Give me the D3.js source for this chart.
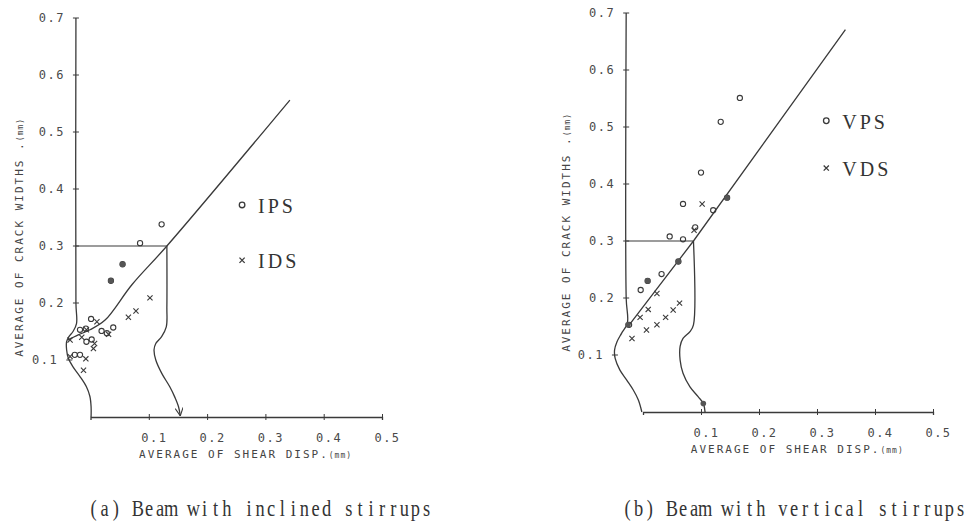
<!DOCTYPE html>
<html>
<head>
<meta charset="utf-8">
<script src="https://cdn.jsdelivr.net/npm/d3@7"></script>
<style>
  body { margin: 0; background: #fff; }
  svg { display: block; }
</style>
</head>
<body>
<div id="chart"></div>
<script>
// shared tick values and texts
const xTicks = [0.1, 0.2, 0.3, 0.4, 0.5];
const yTicks = [0.1, 0.2, 0.3, 0.4, 0.5, 0.6, 0.7];
const xTitle = 'AVERAGE OF SHEAR DISP.';
const yTitle = 'AVERAGE OF CRACK WIDTHS .';
const unitText = '(mm)';

// (a) inclined stirrups  [shear disp, crack width]
const captionA = '(a) Beam with inclined stirrups';
const seriesA = ['IPS', 'IDS'];
const lineA = [[0.342, 0.556], [0.131, 0.300], [0.071, 0.232], [0.025, 0.170], [-0.001, 0.153], [-0.021, 0.144], [-0.039, 0.135]];
const leftBoundA = [[-0.025, 0.7], [-0.025, 0.2], [-0.024, 0.164], [-0.030, 0.150], [-0.037, 0.141], [-0.041, 0.132], [-0.041, 0.118],
  [-0.038, 0.103], [-0.030, 0.088], [-0.018, 0.071], [-0.007, 0.053], [-0.001, 0.036], [0.001, 0.018], [0.001, 0]];
const rightBoundA = [[0.131, 0.3], [0.131, 0.194], [0.130, 0.158], [0.122, 0.141], [0.112, 0.129], [0.109, 0.118], [0.112, 0.100],
  [0.122, 0.077], [0.136, 0.053], [0.145, 0.034], [0.151, 0.018], [0.154, 0.002]];
const ipsA = [[0.085, 0.305], [0.122, 0.338], [0.055, 0.268], [0.035, 0.239], [0.001, 0.172], [-0.018, 0.153], [-0.008, 0.155],
  [0.019, 0.151], [0.039, 0.157], [0.028, 0.147], [-0.007, 0.132], [0.002, 0.136], [-0.027, 0.109], [-0.018, 0.109]];
const idsA = [[0.102, 0.209], [0.078, 0.186], [0.065, 0.175], [0.011, 0.167], [-0.007, 0.153], [0.031, 0.145], [0.007, 0.129],
  [0.005, 0.120], [-0.008, 0.102], [-0.012, 0.082], [-0.035, 0.106], [-0.035, 0.135], [-0.015, 0.140]];
const solidA = [[0.055, 0.268], [0.035, 0.239]];

// (b) vertical stirrups
const captionB = '(b) Beam with vertical stirrups';
const seriesB = ['VPS', 'VDS'];
const lineB = [[0.349, 0.671], [0.087, 0.300], [-0.025, 0.151]];
const leftBoundB = [[-0.029, 0.7], [-0.029, 0.2], [-0.027, 0.156], [-0.037, 0.138], [-0.045, 0.123], [-0.049, 0.109], [-0.048, 0.094],
  [-0.040, 0.074], [-0.028, 0.056], [-0.017, 0.039], [-0.008, 0.021], [-0.002, 0]];
const rightBoundB = [[0.087, 0.3], [0.087, 0.153], [0.081, 0.141], [0.069, 0.129], [0.064, 0.115], [0.064, 0.091], [0.069, 0.068],
  [0.081, 0.044], [0.095, 0.027], [0.104, 0.015], [0.107, 0]];
const vpsB = [[0.167, 0.551], [0.134, 0.509], [0.100, 0.420], [0.069, 0.365], [0.121, 0.354], [0.090, 0.324], [0.046, 0.308],
  [0.069, 0.303], [0.145, 0.376], [0.061, 0.264], [0.032, 0.242], [0.008, 0.230], [-0.004, 0.214], [-0.024, 0.153]];
const vdsB = [[0.102, 0.365], [0.088, 0.319], [0.024, 0.208], [0.009, 0.180], [-0.005, 0.166], [0.063, 0.191], [0.052, 0.179],
  [0.039, 0.166], [0.024, 0.153], [0.006, 0.144], [-0.019, 0.129]];
const solidB = [[-0.026, 0.153], [0.104, 0.015], [0.061, 0.264], [0.145, 0.376], [0.008, 0.230]];

const INK = '#3a3a3a';
const width = 971, height = 524;

const panels = [
  { xr: [90.5, 382], yr: [417, 18], axisX: -0.025, line: lineA, leftB: leftBoundA, rightB: rightBoundA,
    circ: ipsA, cross: idsA, solid: solidA, names: seriesA, legend: [0.26, 0.372, 0.275], arrow: true,
    caption: captionA, capX: 88, yTitleOff: -53, xLabPad: 16 },
  { xr: [643, 933], yr: [412, 13], axisX: -0.029, line: lineB, leftB: leftBoundB, rightB: rightBoundB,
    circ: vpsB, cross: vdsB, solid: solidB, names: seriesB, legend: [0.316, 0.511, 0.428], arrow: false,
    caption: captionB, capX: 622, yTitleOff: -56, xLabPad: 16 }
];

const svg = d3.select('#chart').append('svg').attr('width', width).attr('height', height);

svg.append('defs').append('marker')
  .attr('id', 'vee').attr('viewBox', '0 0 10 10').attr('refX', 10).attr('refY', 5)
  .attr('markerWidth', 8).attr('markerHeight', 8).attr('markerUnits', 'userSpaceOnUse').attr('orient', 'auto')
  .append('path').attr('d', 'M0,0L10,5L0,10').attr('fill', 'none').attr('stroke', INK).attr('stroke-width', 1.4);

// x of a polyline at a given y value
function xAt(arr, v) {
  for (let i = 1; i < arr.length; i++) {
    const [xa, ya] = arr[i - 1], [xb, yb] = arr[i];
    if ((v - ya) * (v - yb) <= 0 && ya !== yb) return xa + (xb - xa) * (v - ya) / (yb - ya);
  }
  return arr[0][0];
}

const crossPath = 'M-2.6,-2.6L2.6,2.6M-2.6,2.6L2.6,-2.6';
const CAP_PITCH = 11.1, CAP_SQUEEZE = 0.8;

panels.forEach((p) => {
  const x = d3.scaleLinear().domain([0, 0.5]).range(p.xr);
  const y = d3.scaleLinear().domain([0, 0.7]).range(p.yr);
  const g = svg.append('g');
  const smooth = d3.line().x((d) => x(d[0])).y((d) => y(d[1])).curve(d3.curveCatmullRom.alpha(0.5));
  const straight = d3.line().x((d) => x(d[0])).y((d) => y(d[1]));

  // boundaries (left one doubles as the y axis line)
  g.append('path').datum(p.leftB).attr('d', smooth)
    .attr('fill', 'none').attr('stroke', INK).attr('stroke-width', 1.3);
  g.append('path').datum([[p.axisX, 0.3], p.rightB[0]]).attr('d', straight)
    .attr('fill', 'none').attr('stroke', INK).attr('stroke-width', 1.2);
  const rb = g.append('path').datum(p.rightB).attr('d', smooth)
    .attr('fill', 'none').attr('stroke', INK).attr('stroke-width', 1.3);
  if (p.arrow) rb.attr('marker-end', 'url(#vee)');

  // main line
  g.append('path').datum(p.line).attr('d', p.line.length > 3 ? smooth : straight)
    .attr('fill', 'none').attr('stroke', INK).attr('stroke-width', 1.3);

  // y axis ticks
  const ya = g.append('g').attr('transform', `translate(${x(p.axisX)},0)`)
    .call(d3.axisLeft(y).tickValues(yTicks).tickSize(0).tickPadding(9).tickFormat(d3.format('.1f')));
  ya.select('.domain').remove();
  ya.selectAll('.tick').attr('transform', (d) => `translate(${x(xAt(p.leftB, d)) - x(p.axisX)},${y(d)})`);
  ya.selectAll('.tick line').attr('x1', -3).attr('x2', 3).attr('stroke', INK);
  ya.selectAll('.tick text').attr('fill', '#4a4a4a').attr('x', -11)
    .style('font', '12px "DejaVu Sans Mono", monospace').style('letter-spacing', '1.5px');

  // x axis
  const xa = g.append('g').attr('transform', `translate(0,${y(0)})`)
    .call(d3.axisBottom(x).tickValues(xTicks).tickSizeOuter(0).tickSize(3).tickFormat(d3.format('.1f')));
  xa.select('.domain').attr('stroke', INK).attr('stroke-width', 1.3);
  xa.selectAll('.tick line').attr('y1', -3).attr('y2', 3).attr('stroke', INK);
  xa.selectAll('.tick text').attr('fill', '#4a4a4a').attr('y', p.xLabPad).attr('dx', 5)
    .style('font', '12px "DejaVu Sans Mono", monospace').style('letter-spacing', '1.5px');

  // axis titles
  const xt = g.append('text').attr('x', x(0.266)).attr('y', y(0) + 41).attr('text-anchor', 'middle')
    .attr('fill', '#444').style('font', '11px "DejaVu Sans Mono", monospace').style('letter-spacing', '2px')
    .text(xTitle);
  xt.append('tspan').style('font-size', '8px').style('letter-spacing', '1px').text(unitText);
  const yt = g.append('text')
    .attr('transform', `translate(${x(p.axisX) + p.yTitleOff},${y(0.315)}) rotate(-90)`).attr('text-anchor', 'middle')
    .attr('fill', '#444').style('font', '11px "DejaVu Sans Mono", monospace').style('letter-spacing', '2px')
    .text(yTitle);
  yt.append('tspan').style('font-size', '8px').style('letter-spacing', '1px').text(unitText);

  // markers
  g.selectAll('circle.pt').data(p.circ).join('circle').attr('class', 'pt')
    .attr('cx', (d) => x(d[0])).attr('cy', (d) => y(d[1])).attr('r', 2.6)
    .attr('fill', 'none').attr('stroke', INK).attr('stroke-width', 1.1);
  g.selectAll('circle.solid').data(p.solid).join('circle').attr('class', 'solid')
    .attr('cx', (d) => x(d[0])).attr('cy', (d) => y(d[1])).attr('r', 2.8).attr('fill', '#555');
  g.selectAll('path.cr').data(p.cross).join('path').attr('class', 'cr')
    .attr('transform', (d) => `translate(${x(d[0])},${y(d[1])})`).attr('d', crossPath)
    .attr('stroke', INK).attr('stroke-width', 1.1);

  // legend
  const [lx, ly1, ly2] = p.legend;
  g.append('circle').attr('cx', x(lx)).attr('cy', y(ly1)).attr('r', 2.8)
    .attr('fill', 'none').attr('stroke', INK).attr('stroke-width', 1.3);
  g.append('path').attr('transform', `translate(${x(lx)},${y(ly2)})`).attr('d', crossPath)
    .attr('stroke', INK).attr('stroke-width', 1.3);
  [ly1, ly2].forEach((ly, i) => {
    g.append('text').attr('x', x(lx) + 16).attr('y', y(ly) + 8).attr('fill', '#333')
      .style('font', '20px "Liberation Serif", serif').style('letter-spacing', '3px').text(p.names[i]);
  });

  // caption: serif glyphs on a fixed pitch, squeezed like the half-width print face
  const cap = g.append('text').attr('transform', `translate(${p.capX},516) scale(${CAP_SQUEEZE},1)`)
    .attr('fill', '#333').style('font', '23px "Liberation Serif", serif');
  cap.selectAll('tspan').data(Array.from(p.caption)).join('tspan')
    .attr('x', (d, i) => (i + 0.5) * CAP_PITCH / CAP_SQUEEZE).attr('text-anchor', 'middle')
    .text((d) => d);
});
</script>
</body>
</html>
